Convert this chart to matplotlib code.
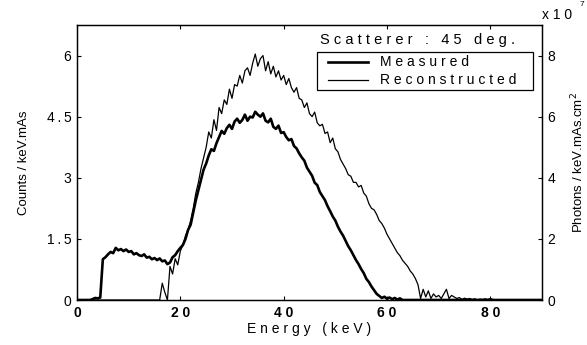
import numpy as np
import matplotlib.pyplot as plt
from matplotlib.lines import Line2D
from matplotlib.patches import Rectangle

plt.rcParams['font.family'] = ['Liberation Sans', 'DejaVu Sans']

# energy grid (keV), 0.5 keV bins
energy = np.arange(0, 90.5, 0.5)

# measured spectrum, counts / keV.mAs (left axis), rows of 5 keV from 0 keV
measured_vals = [
    0, 0, 0, 0, 0, 0, 0.02, 0.05, 0.04, 0.06,
    1.0, 1.05, 1.12, 1.18, 1.15, 1.28, 1.22, 1.25, 1.2, 1.24,
    1.18, 1.2, 1.12, 1.15, 1.1, 1.08, 1.12, 1.04, 1.06, 1.0,
    1.03, 0.98, 1.02, 0.95, 0.97, 0.88, 0.92, 1.05, 1.1, 1.2,
    1.28, 1.35, 1.5, 1.72, 1.85, 2.15, 2.45, 2.7, 2.95, 3.2,
    3.35, 3.55, 3.7, 3.66, 3.85, 4.0, 4.15, 4.08, 4.22, 4.3,
    4.2, 4.38, 4.45, 4.35, 4.42, 4.55, 4.4, 4.5, 4.48, 4.62,
    4.55, 4.5, 4.58, 4.4, 4.36, 4.45, 4.25, 4.2, 4.28, 4.1,
    4.12, 4.0, 3.92, 3.95, 3.78, 3.72, 3.6, 3.5, 3.42, 3.25,
    3.15, 3.05, 2.88, 2.82, 2.65, 2.55, 2.45, 2.3, 2.18, 2.05,
    1.95, 1.8, 1.68, 1.58, 1.45, 1.32, 1.22, 1.1, 0.98, 0.88,
    0.76, 0.66, 0.52, 0.44, 0.33, 0.24, 0.15, 0.1, 0.05, 0.08,
    0.03, 0.06, 0.02, 0.05, 0.01, 0.04, 0, 0, 0, 0,
]
measured = np.zeros(len(energy))
measured[:len(measured_vals)] = measured_vals

# reconstructed spectrum, photons / keV.mAs.cm2 (right axis), rows of 5 keV from 15 keV
recon_start = 15.0
recon_vals = [
    0, 0, 0, 0.55, 0.25, 0, 1.1, 0.85, 1.35, 1.15,
    1.6, 1.8, 2.1, 2.3, 2.6, 3.0, 3.5, 3.85, 4.3, 4.65,
    5.0, 5.5, 5.3, 5.9, 5.55, 6.3, 6.1, 6.55, 6.4, 6.9,
    6.6, 7.05, 7.0, 7.35, 7.1, 7.5, 7.6, 7.35, 7.75, 8.05,
    7.65, 7.9, 8.0, 7.5, 7.8, 7.4, 7.65, 7.3, 7.5, 7.2,
    7.35, 7.05, 7.25, 6.95, 6.8, 6.95, 6.6, 6.55, 6.3, 6.45,
    6.1, 6.0, 6.15, 5.8, 5.7, 5.75, 5.45, 5.5, 5.15, 5.3,
    4.95, 4.85, 4.6, 4.45, 4.3, 4.1, 4.05, 3.85, 3.85, 3.7,
    3.75, 3.5, 3.4, 3.15, 3.0, 2.95, 2.8, 2.6, 2.5, 2.35,
    2.15, 2.0, 1.85, 1.7, 1.55, 1.45, 1.3, 1.2, 1.1, 0.95,
    0.85, 0.7, 0.5, 0.05, 0.35, 0.1, 0.3, 0.05, 0.2, 0.1,
    0.15, 0.05, 0.2, 0.35, 0.05, 0.15, 0.1, 0.05, 0.08, 0.02,
    0.06, 0.03, 0.05, 0.02, 0.04, 0.01, 0.03, 0.02, 0.04, 0.02,
    0.05, 0.02, 0, 0, 0, 0, 0, 0, 0, 0,
]
reconstructed = np.zeros(len(energy))
i0 = int(recon_start / 0.5)
reconstructed[i0:i0 + len(recon_vals)] = recon_vals

xticks = [0, 20, 40, 60, 80]
left_ticks = [0, 1.5, 3, 4.5, 6]
right_ticks = [0, 2, 4, 6, 8]
series_names = ['Measured', 'Reconstructed']


def spaced(s, gap=' '):
    # old-style widely spaced lettering
    return gap.join(s)


fig = plt.figure(figsize=(5.87, 3.45), dpi=100)
ax = fig.add_axes([77/587, 1-300/345, (542-77)/587, (300-25)/345])
ax2 = ax.twinx()

l1, = ax.plot(energy, measured, color='black', lw=1.9)
l2, = ax2.plot(energy, reconstructed, color='black', lw=0.9)

ax.set_xlim(0, 90)
ax.set_ylim(0, 6.75)
ax2.set_ylim(0, 9)

ax.set_xticks(xticks)
ax.set_xticklabels([spaced(str(t)) for t in xticks], fontsize=10, fontweight='bold')
ax.set_yticks(left_ticks)
ax.set_yticklabels([spaced('%g' % t, '\u2009') for t in left_ticks], fontsize=10)
ax2.set_yticks(right_ticks)
ax2.set_yticklabels([str(t) for t in right_ticks], fontsize=10)

ax.tick_params(direction='in', length=3, width=0.8, top=True, pad=4)
ax2.tick_params(direction='in', length=3, width=0.8, pad=4)
for a in (ax, ax2):
    for sp in a.spines.values():
        sp.set_linewidth(0.9)

ax.set_xlabel(spaced('Energy (keV)'), fontsize=10, labelpad=2)
ax.set_ylabel('Counts / keV.mAs', fontsize=9.5, labelpad=12)
ax2.set_ylabel(r'Photons / keV.mAs.cm$^2$', fontsize=9.5, labelpad=10)

# exponent label of right axis
fig.text(542/587, 1-15/345, 'x 1 0', fontsize=10, ha='left', va='center')
fig.text(580/587, 1-1/345, '7', fontsize=6, ha='left', va='top')

fig.text(418/587, 1-40/345, spaced('Scatterer : 45 deg.'), fontsize=10.5,
         ha='center', va='center')

# legend box drawn by hand (MATLAB-like layout)
fig.add_artist(Rectangle((317/587, 1-90/345), (533-317)/587, 38/345,
                         transform=fig.transFigure, fill=False,
                         edgecolor='black', lw=0.9))
for yy, lw, name in [(62, 1.9, series_names[0]), (80, 0.9, series_names[1])]:
    fig.add_artist(Line2D([328/587, 368/587], [1-yy/345, 1-yy/345],
                          transform=fig.transFigure, color='black', lw=lw))
    fig.text(380/587, 1-yy/345, spaced(name), fontsize=10, ha='left', va='center')

fig.savefig('out.png', dpi=100)
